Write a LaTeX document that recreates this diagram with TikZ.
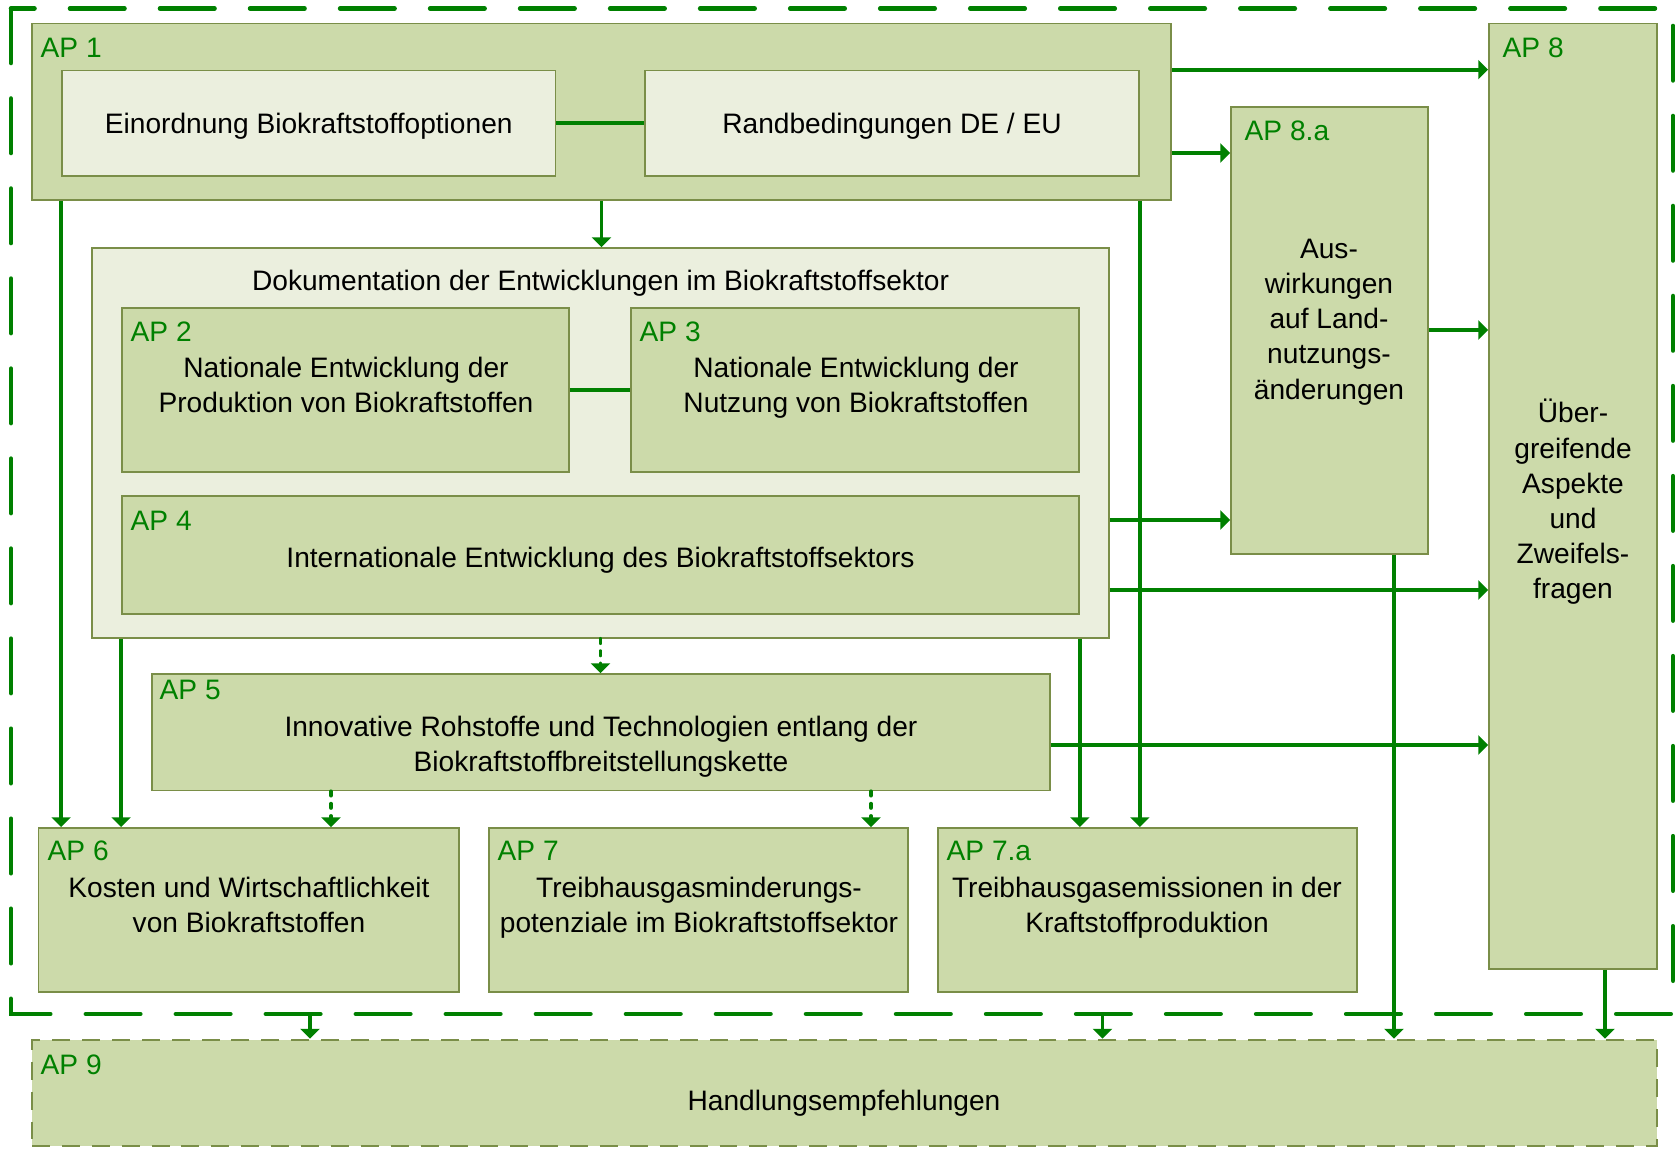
\documentclass[tikz,border=0pt]{standalone}
\usepackage{fontspec}
\setmainfont{Liberation Sans}
\usetikzlibrary{arrows.meta,fit,calc}
\definecolor{boxgreen}{RGB}{204,218,170}
\definecolor{palegreen}{RGB}{235,239,222}
\definecolor{olive}{RGB}{122,142,72}
\definecolor{apgreen}{RGB}{0,128,0}

\begin{document}
\begin{tikzpicture}[x=0.01cm, y=-0.01cm,
	font=\fontsize{8}{10}\selectfont,
	apbox/.style={draw=olive, fill=boxgreen, line width=0.5pt, inner sep=0pt},
	palebox/.style={draw=olive, fill=palegreen, line width=0.5pt, inner sep=0pt},
	aplab/.style={anchor=west, text=apgreen, inner sep=0pt},
	txt/.style={align=center, inner sep=0pt, text depth=0pt},
	arr/.style={draw=apgreen, line width=1.1pt, -{Triangle[width=5.4pt,length=2.8pt]}},
	darr/.style={arr, line cap=round, dash pattern=on 1.2pt off 2.3pt},
	link/.style={draw=apgreen, line width=1.1pt},
	frame/.style={draw=apgreen, line width=1.3pt, dash pattern=on 15.5pt off 10.1pt, line cap=round}]
	\useasboundingbox (0,0) rectangle (1675,1152);
	\draw[frame] (11,8.5) rectangle (1673,1014);
	\coordinate (fr1) at (310,1014);
	\coordinate (fr2) at (1102.5,1014);
	% AP 1
	\node[apbox, fit={(32,23.5) (1171,200)}] (ap1) {};
	\node[aplab] (ap1lab) at (40,48) {AP 1};
	\node[palebox, fit={(62,70.5) (555.5,176)}] (einord) {};
	\node[txt] (einordtxt) at (einord) {Einordnung Biokraftstoffoptionen};
	\node[palebox, fit={(645,70.5) (1139,176)}] (rand) {};
	\node[txt] (randtxt) at (rand) {Randbedingungen DE / EU};
	% AP 8, AP 8.a
	\node[apbox, fit={(1489,23.5) (1657,969)}] (ap8) {};
	\node[aplab] (ap8lab) at (1502,48) {AP 8};
	\node[txt] (ap8txt) at (1573,499) {Über-\\greifende\\Aspekte\\und\\Zweifels-\\fragen};
	\node[apbox, fit={(1231,107) (1428,554)}] (ap8a) {};
	\node[aplab] (ap8alab) at (1244,131) {AP 8.a};
	\node[txt] (ap8atxt) at (1329,319) {Aus-\\wirkungen\\auf Land-\\nutzungs-\\änderungen};
	% Dokumentation
	\node[palebox, fit={(92,248) (1109,638)}] (dok) {};
	\node[txt] (doktxt) at (600.5,280) {Dokumentation der Entwicklungen im Biokraftstoffsektor};
	\node[apbox, fit={(122,308) (569,472)}] (ap2) {};
	\node[aplab] (ap2lab) at (130,332) {AP 2};
	\node[txt] (ap2txt) at (346,385) {Nationale Entwicklung der\\Produktion von Biokraftstoffen};
	\node[apbox, fit={(631,308) (1079,472)}] (ap3) {};
	\node[aplab] (ap3lab) at (639,332) {AP 3};
	\node[txt] (ap3txt) at (856,385) {Nationale Entwicklung der\\Nutzung von Biokraftstoffen};
	\node[apbox, fit={(122,496) (1079,614)}] (ap4) {};
	\node[aplab] (ap4lab) at (130,521) {AP 4};
	\node[txt] (ap4txt) at (600.5,557) {Internationale Entwicklung des Biokraftstoffsektors};
	% AP 5
	\node[apbox, fit={(152,674) (1050,790.5)}] (ap5) {};
	\node[aplab] (ap5lab) at (159,690) {AP 5};
	\node[txt] (ap5txt) at (601,743.5) {Innovative Rohstoffe und Technologien entlang der\\Biokraftstoffbreitstellungskette};
	% AP 6, 7, 7.a
	\node[apbox, fit={(38.5,828) (459,992)}] (ap6) {};
	\node[aplab] (ap6lab) at (47,851) {AP 6};
	\node[txt] (ap6txt) at (249,905) {Kosten und Wirtschaftlichkeit\\von Biokraftstoffen};
	\node[apbox, fit={(489,828) (908,992)}] (ap7) {};
	\node[aplab] (ap7lab) at (497,851) {AP 7};
	\node[txt] (ap7txt) at (699,905) {Treibhausgasminderungs-\\potenziale im Biokraftstoffsektor};
	\node[apbox, fit={(938,828) (1357,992)}] (ap7a) {};
	\node[aplab] (ap7alab) at (946,851) {AP 7.a};
	\node[txt] (ap7atxt) at (1147,905) {Treibhausgasemissionen in der\\Kraftstoffproduktion};
	% AP 9
	\node[apbox, line width=0.75pt, dash pattern=on 5.1pt off 3.4pt, fit={(32,1040) (1657,1146)}] (ap9) {};
	\node[aplab] (ap9lab) at (40,1065) {AP 9};
	\node[txt] (ap9txt) at (844,1100) {Handlungsempfehlungen};
	% connectors
	\draw[link] (einord.east) -- (rand.west);
	\draw[link] (ap2.east) -- (ap3.west);
	\draw[arr] (ap1.east |- einord.north) -- (ap8.west |- einord.north);
	\draw[arr] (ap1.east |- 0,153) -- (ap8a.west |- 0,153);
	\draw[arr] (ap8a.east |- 0,330) -- (ap8.west |- 0,330);
	\draw[arr] (dok.east |- 0,520) -- (ap8a.west |- 0,520);
	\draw[arr] (dok.east |- 0,590) -- (ap8.west |- 0,590);
	\draw[arr] (ap5.east |- 0,745) -- (ap8.west |- 0,745);
	\draw[arr] (ap1.south) -- (ap1.south |- dok.north);
	\draw[darr] (dok.south) -- (dok.south |- ap5.north);
	\draw[arr] (ap1.south -| einord.west) -- (ap6.north -| einord.west);
	\draw[arr] (dok.south -| ap2.west) -- (ap6.north -| ap2.west);
	\draw[darr] (ap5.south -| 331,0) -- (ap6.north -| 331,0);
	\draw[darr] (ap5.south -| 871,0) -- (ap7.north -| 871,0);
	\draw[arr] (dok.south -| ap4.east) -- (ap7a.north -| ap4.east);
	\draw[arr] (ap1.south -| rand.east) -- (ap7a.north -| rand.east);
	\draw[arr] (ap8a.south -| 1394,0) -- (ap9.north -| 1394,0);
	\draw[arr] (ap8.south -| 1605,0) -- (ap9.north -| 1605,0);
	\draw[arr] (fr1) -- (fr1 |- ap9.north);
	\draw[arr] (fr2) -- (fr2 |- ap9.north);
\end{tikzpicture}
\end{document}
